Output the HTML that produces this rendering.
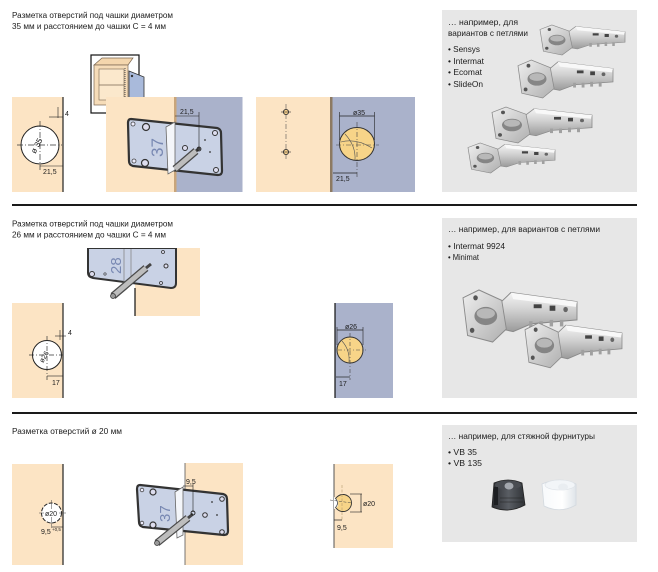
<!DOCTYPE html>
<html><head><meta charset="utf-8">
<style>
html,body{margin:0;padding:0;background:#fff;}
svg{display:block;}
text{font-family:"Liberation Sans", Arial, sans-serif;fill:#1c1c1c;}
</style></head><body>
<svg width="658" height="572" viewBox="0 0 658 572" xmlns="http://www.w3.org/2000/svg">
<defs>
<linearGradient id="metal" x1="0" y1="0" x2="0" y2="1">
<stop offset="0" stop-color="#f4f4f4"/><stop offset="0.45" stop-color="#d0d0d0"/><stop offset="1" stop-color="#9a9a9a"/>
</linearGradient>
<linearGradient id="cupg" x1="0" y1="0" x2="1" y2="1">
<stop offset="0" stop-color="#efefef"/><stop offset="1" stop-color="#afafaf"/>
</linearGradient>
<linearGradient id="darkcam" x1="0" y1="0" x2="1" y2="0">
<stop offset="0" stop-color="#2b2d31"/><stop offset="0.5" stop-color="#5a5e64"/><stop offset="1" stop-color="#2f3236"/>
</linearGradient>
<linearGradient id="whitecam" x1="0" y1="0" x2="1" y2="0">
<stop offset="0" stop-color="#f7f9fb"/><stop offset="0.6" stop-color="#ffffff"/><stop offset="1" stop-color="#dfe4e9"/>
</linearGradient>
<g id="hinge">
 <polygon points="30,12 42,2 100,9 100,23 60,26 44,32 34,30" fill="url(#metal)" stroke="#8a8a8a" stroke-width="0.8"/>
 <polygon points="42,2 100,9 99,13 44,7" fill="#f8f8f8"/>
 <rect x="58" y="24" width="3" height="5" fill="#a0a0a0"/>
 <rect x="67" y="24" width="3" height="5" fill="#a0a0a0"/>
 <rect x="76" y="23" width="3" height="5" fill="#a0a0a0"/>
 <rect x="85" y="23" width="3" height="5" fill="#a0a0a0"/>
 <polygon points="0,6 14,0 34,8 38,30 26,40 4,35" fill="url(#cupg)" stroke="#8a8a8a" stroke-width="0.8"/>
 <ellipse cx="20" cy="20" rx="10" ry="7" fill="#858585"/>
 <ellipse cx="20" cy="18" rx="8" ry="4" fill="#b8b8b8"/>
 <circle cx="8" cy="31" r="2" fill="#555"/>
 <circle cx="11" cy="6" r="2" fill="#555"/>
 <rect x="62" y="11" width="7" height="3" fill="#444"/>
 <rect x="76" y="12" width="5" height="4" fill="#444"/>
 <circle cx="90" cy="15" r="2" fill="#666"/>
</g>
</defs>

<!-- ================= SECTION 1 ================= -->
<text x="12" y="18" font-size="8" textLength="161" lengthAdjust="spacingAndGlyphs">Разметка отверстий под чашки диаметром</text>
<text x="12" y="29" font-size="8" textLength="154" lengthAdjust="spacingAndGlyphs">35 мм и расстоянием до чашки С = 4 мм</text>

<!-- left drawing -->
<rect x="12" y="97" width="51" height="95" fill="#fce4c4"/>
<line x1="63" y1="97" x2="63" y2="192" stroke="#222" stroke-width="1.2"/>
<circle cx="40" cy="145" r="19" fill="#fff" stroke="#222" stroke-width="1"/>
<line x1="17" y1="145" x2="62" y2="145" stroke="#333" stroke-width="0.7" stroke-dasharray="6,2,1,2"/>
<line x1="40" y1="121" x2="40" y2="170" stroke="#333" stroke-width="0.7" stroke-dasharray="6,2,1,2"/>
<line x1="49" y1="117" x2="63" y2="117" stroke="#222" stroke-width="0.6"/>
<line x1="58" y1="107" x2="58" y2="118" stroke="#222" stroke-width="0.6"/>
<text x="65" y="116" font-size="7">4</text>
<line x1="40" y1="166" x2="63" y2="166" stroke="#222" stroke-width="0.6"/>
<text x="43" y="174" font-size="7">21,5</text>
<text transform="translate(39,147) rotate(-62)" text-anchor="middle" font-size="8">ø 35</text>

<!-- middle drawing -->
<rect x="91" y="55" width="48" height="58" fill="#fff" stroke="#111" stroke-width="1.2"/>
<polygon points="94,65 102,58 133,58 128,65" fill="#f4d6ad" stroke="#7a6650" stroke-width="0.7"/>
<rect x="94" y="65" width="34" height="40" fill="#f6dcb8" stroke="#7a6650" stroke-width="0.7"/>
<rect x="99" y="69" width="25" height="31" fill="#fbe8cc" stroke="#7a6650" stroke-width="0.6"/>
<line x1="99" y1="85" x2="124" y2="85" stroke="#7a6650" stroke-width="0.8"/>
<line x1="125" y1="68" x2="125" y2="100" stroke="#555" stroke-width="1" stroke-dasharray="1,1"/>
<polygon points="129,71 144,77 144,113 129,105" fill="#a9badb" stroke="#333" stroke-width="0.8"/>
<circle cx="132" cy="76" r="1.2" fill="#333"/>
<circle cx="132" cy="99" r="1.2" fill="#333"/>

<rect x="106" y="97" width="68" height="95" fill="#fce4c4"/>
<rect x="174" y="97" width="2.5" height="95" fill="#c9a57a"/>
<rect x="176.5" y="97" width="66" height="95" fill="#aab2cb"/>
<path d="M131,119 L217,128 Q221,129 221,133 L222,171 Q222,175 218,175 L133,166 Q129,165 129,161 L128,123 Q128,119 131,119 Z" fill="#c9d2e5" stroke="#333" stroke-width="2.2" stroke-linejoin="round"/>
<circle cx="133" cy="124" r="2" fill="#eef" stroke="#444" stroke-width="0.8"/>
<circle cx="146" cy="127" r="3.5" fill="#dde" stroke="#333" stroke-width="1.2"/>
<circle cx="134" cy="161" r="2" fill="#eef" stroke="#444" stroke-width="0.8"/>
<circle cx="145" cy="163" r="3.5" fill="#dde" stroke="#333" stroke-width="1.2"/>
<circle cx="215" cy="133" r="2.5" fill="#dde" stroke="#333" stroke-width="1"/>
<circle cx="216" cy="170" r="2.5" fill="#dde" stroke="#333" stroke-width="1"/>
<circle cx="185" cy="148" r="2.5" fill="#dde" stroke="#333" stroke-width="1"/>
<circle cx="210" cy="152" r="0.9" fill="#333"/>
<circle cx="205" cy="140" r="0.9" fill="#333"/>
<text transform="translate(163,157) rotate(-90)" font-size="17" style="fill:#7888b2">37</text>
<polygon points="166,127 175,122 175,170 168,174" fill="#f4f6fa" stroke="#666" stroke-width="0.8"/>
<line x1="175" y1="169" x2="196" y2="151" stroke="#4a4a4a" stroke-width="7.5"/>
<line x1="175" y1="169" x2="196" y2="151" stroke="#bdbdbd" stroke-width="5"/>
<line x1="196" y1="151" x2="200" y2="148" stroke="#444" stroke-width="3"/>
<circle cx="199" cy="149" r="2" fill="none" stroke="#222" stroke-width="0.8"/>
<line x1="175" y1="116" x2="199" y2="116" stroke="#222" stroke-width="0.6"/>
<line x1="199" y1="112" x2="199" y2="148" stroke="#222" stroke-width="0.6"/>
<text x="180" y="114" font-size="7">21,5</text>

<!-- right drawing -->
<rect x="256" y="97" width="74" height="95" fill="#fce4c4"/>
<rect x="330" y="97" width="2.5" height="95" fill="#8d7a62"/>
<rect x="332.5" y="97" width="82.5" height="95" fill="#aab2cb"/>
<line x1="286" y1="104" x2="286" y2="160" stroke="#555" stroke-width="0.6" stroke-dasharray="5,2,1,2"/>
<circle cx="286" cy="112" r="2.6" fill="#f8d08a" stroke="#333" stroke-width="0.9"/>
<line x1="281" y1="112" x2="291" y2="112" stroke="#333" stroke-width="0.6"/>
<circle cx="286" cy="152" r="2.6" fill="#f8d08a" stroke="#333" stroke-width="0.9"/>
<line x1="281" y1="152" x2="291" y2="152" stroke="#333" stroke-width="0.6"/>
<ellipse cx="357" cy="144" rx="17.5" ry="16.5" fill="#f7d488" stroke="#333" stroke-width="1"/>
<path d="M345,134 Q356,146 355,160" fill="none" stroke="#555" stroke-width="0.6"/>
<path d="M341,142 Q356,138 372,148" fill="none" stroke="#555" stroke-width="0.6"/>
<line x1="336" y1="145" x2="379" y2="145" stroke="#444" stroke-width="0.6" stroke-dasharray="5,2,1,2"/>
<line x1="357" y1="122" x2="357" y2="178" stroke="#444" stroke-width="0.6" stroke-dasharray="5,2,1,2"/>
<line x1="339.5" y1="112" x2="339.5" y2="140" stroke="#222" stroke-width="0.6"/>
<line x1="374.5" y1="112" x2="374.5" y2="140" stroke="#222" stroke-width="0.6"/>
<line x1="339.5" y1="116" x2="374.5" y2="116" stroke="#222" stroke-width="0.7"/>
<text x="353" y="115" font-size="7">ø35</text>
<line x1="333" y1="173" x2="357" y2="173" stroke="#222" stroke-width="0.7"/>
<text x="336" y="181" font-size="7">21,5</text>

<!-- right panel 1 -->
<rect x="442" y="10" width="195" height="182" fill="#e7e7e7"/>
<text x="448" y="25" font-size="8.5" textLength="70" lengthAdjust="spacingAndGlyphs">…  например, для</text>
<text x="448" y="36" font-size="8.5" textLength="80" lengthAdjust="spacingAndGlyphs">вариантов с петлями</text>
<text x="448" y="52" font-size="8.5" textLength="32" lengthAdjust="spacingAndGlyphs">• Sensys</text>
<text x="448" y="64" font-size="8.5" textLength="36" lengthAdjust="spacingAndGlyphs">• Intermat</text>
<text x="448" y="75" font-size="8.5" textLength="34" lengthAdjust="spacingAndGlyphs">• Ecomat</text>
<text x="448" y="87" font-size="8.5" textLength="35" lengthAdjust="spacingAndGlyphs">• SlideOn</text>
<use href="#hinge" transform="translate(540,25) scale(0.85,0.75)"/>
<use href="#hinge" transform="translate(518,60) scale(0.95,0.95)"/>
<use href="#hinge" transform="translate(492,107) scale(1,0.9)"/>
<use href="#hinge" transform="translate(468,143) scale(0.87,0.75)"/>

<!-- divider 1 -->
<rect x="12" y="204" width="625" height="2" fill="#1a1a1a"/>

<!-- ================= SECTION 2 ================= -->
<text x="12" y="226.5" font-size="8" textLength="161" lengthAdjust="spacingAndGlyphs">Разметка отверстий под чашки диаметром</text>
<text x="12" y="237.5" font-size="8" textLength="154" lengthAdjust="spacingAndGlyphs">26 мм и расстоянием до чашки С = 4 мм</text>

<!-- middle plate -->
<rect x="135" y="248" width="65" height="68" fill="#fce4c4"/>
<path d="M88,248 L176,248 L176,283 Q176,288 171,288 L93,278 Q88,277 88,273 Z" fill="#c9d2e5" stroke="#333" stroke-width="2" stroke-linejoin="round"/>
<rect x="87" y="246" width="91" height="2" fill="#fff"/>
<line x1="124" y1="249" x2="124" y2="282" stroke="#888" stroke-width="0.8"/>
<line x1="131" y1="249" x2="131" y2="283" stroke="#888" stroke-width="0.8"/>
<line x1="135" y1="288" x2="135" y2="316" stroke="#111" stroke-width="1.2"/>
<text transform="translate(121,274) rotate(-90)" font-size="15" style="fill:#7888b2">28</text>
<circle cx="92" cy="274" r="2.5" fill="#dde" stroke="#333" stroke-width="1"/>
<circle cx="105" cy="274" r="1.2" fill="none" stroke="#333" stroke-width="0.6"/>
<circle cx="166" cy="266" r="2" fill="#dde" stroke="#333" stroke-width="1"/>
<circle cx="163" cy="252" r="1.5" fill="#dde" stroke="#333" stroke-width="0.8"/>
<circle cx="161" cy="283" r="1.5" fill="#dde" stroke="#333" stroke-width="0.8"/>
<line x1="113" y1="296" x2="146" y2="268" stroke="#4a4a4a" stroke-width="7.5"/>
<line x1="113" y1="296" x2="146" y2="268" stroke="#bdbdbd" stroke-width="5"/>
<line x1="146" y1="268" x2="151" y2="264" stroke="#444" stroke-width="3"/>
<circle cx="113" cy="296" r="2.5" fill="#999" stroke="#333" stroke-width="0.7"/>

<!-- left drawing -->
<rect x="12" y="303" width="51" height="95" fill="#fce4c4"/>
<line x1="63" y1="303" x2="63" y2="398" stroke="#222" stroke-width="1.2"/>
<circle cx="47" cy="355" r="14.5" fill="#fff" stroke="#222" stroke-width="1"/>
<line x1="29" y1="355" x2="63" y2="355" stroke="#333" stroke-width="0.7" stroke-dasharray="5,2,1,2"/>
<line x1="47" y1="336" x2="47" y2="380" stroke="#333" stroke-width="0.7" stroke-dasharray="5,2,1,2"/>
<line x1="55" y1="336" x2="66" y2="336" stroke="#222" stroke-width="0.6"/>
<line x1="60" y1="330" x2="60" y2="340" stroke="#222" stroke-width="0.6"/>
<text x="68" y="335" font-size="7">4</text>
<line x1="47" y1="376" x2="63" y2="376" stroke="#222" stroke-width="0.6"/>
<text x="52" y="385" font-size="7">17</text>
<text transform="translate(46,358) rotate(-60)" text-anchor="middle" font-size="7">ø26</text>

<!-- right drawing -->
<rect x="335" y="303" width="58" height="95" fill="#aab2cb"/>
<line x1="335" y1="303" x2="335" y2="398" stroke="#111" stroke-width="1.2"/>
<circle cx="350" cy="350" r="13" fill="#f7d488" stroke="#333" stroke-width="1"/>
<path d="M342,341 Q350,350 349,362" fill="none" stroke="#555" stroke-width="0.6"/>
<line x1="338" y1="350" x2="366" y2="350" stroke="#444" stroke-width="0.6" stroke-dasharray="4,2,1,2"/>
<line x1="350" y1="333" x2="350" y2="380" stroke="#444" stroke-width="0.6" stroke-dasharray="4,2,1,2"/>
<line x1="337" y1="327" x2="337" y2="345" stroke="#222" stroke-width="0.6"/>
<line x1="363" y1="327" x2="363" y2="345" stroke="#222" stroke-width="0.6"/>
<line x1="337" y1="330" x2="363" y2="330" stroke="#222" stroke-width="0.7"/>
<text x="345" y="329" font-size="7">ø26</text>
<line x1="336" y1="377" x2="350" y2="377" stroke="#222" stroke-width="0.7"/>
<text x="339" y="386" font-size="7">17</text>

<!-- right panel 2 -->
<rect x="442" y="218" width="195" height="180" fill="#e7e7e7"/>
<text x="448" y="232" font-size="8.5" textLength="152" lengthAdjust="spacingAndGlyphs">…  например, для вариантов с петлями</text>
<text x="448" y="249" font-size="8.5" textLength="57" lengthAdjust="spacingAndGlyphs">• Intermat 9924</text>
<text x="448" y="260" font-size="8.5" textLength="31" lengthAdjust="spacingAndGlyphs">• Minimat</text>
<use href="#hinge" transform="translate(463,290) scale(1.14,1.3)"/>
<use href="#hinge" transform="translate(525,323) scale(0.97,1.12)"/>

<!-- divider 2 -->
<rect x="12" y="412" width="625" height="2" fill="#1a1a1a"/>

<!-- ================= SECTION 3 ================= -->
<text x="12" y="434" font-size="8" textLength="110" lengthAdjust="spacingAndGlyphs">Разметка отверстий ø 20 мм</text>

<!-- left drawing -->
<rect x="12" y="464" width="51" height="101" fill="#fce4c4"/>
<line x1="63" y1="464" x2="63" y2="565" stroke="#222" stroke-width="1.2"/>
<circle cx="51.5" cy="513" r="10" fill="#fff" stroke="#222" stroke-width="1" stroke-dasharray="4,1.5"/>
<line x1="39" y1="513" x2="66" y2="513" stroke="#444" stroke-width="0.5"/>
<line x1="51.5" y1="500" x2="51.5" y2="528" stroke="#444" stroke-width="0.5"/>
<rect x="44" y="509" width="15" height="8" fill="#fff"/>
<text x="45" y="516" font-size="7">ø20</text>
<line x1="52" y1="527" x2="63" y2="527" stroke="#222" stroke-width="0.6"/>
<text x="41" y="534" font-size="7">9,5</text>
<text x="52" y="531" font-size="4.5">+0,5</text>

<!-- middle drawing -->
<rect x="185" y="463" width="58" height="102" fill="#fce4c4"/>
<line x1="185" y1="463" x2="185" y2="565" stroke="#555" stroke-width="0.8"/>
<path d="M140,485 L223,494 Q227,495 227,499 L228,531 Q228,535 224,535 L143,527 Q139,526 139,522 L137,489 Q137,485 140,485 Z" fill="#c9d2e5" stroke="#333" stroke-width="2.2" stroke-linejoin="round"/>
<circle cx="142" cy="490" r="1.8" fill="#eef" stroke="#444" stroke-width="0.8"/>
<circle cx="153" cy="492" r="3" fill="#dde" stroke="#333" stroke-width="1.2"/>
<circle cx="142" cy="523" r="1.8" fill="#eef" stroke="#444" stroke-width="0.8"/>
<circle cx="153" cy="525" r="3" fill="#dde" stroke="#333" stroke-width="1.2"/>
<circle cx="222" cy="499" r="2.3" fill="#dde" stroke="#333" stroke-width="1"/>
<circle cx="222" cy="532" r="2.3" fill="#dde" stroke="#333" stroke-width="1"/>
<circle cx="205" cy="515" r="2.3" fill="#dde" stroke="#333" stroke-width="1"/>
<circle cx="217" cy="515" r="0.9" fill="#333"/>
<circle cx="212" cy="502" r="0.9" fill="#333"/>
<text transform="translate(170,522) rotate(-90)" font-size="15" style="fill:#7888b2">37</text>
<polygon points="175,492 183,487 183,535 177,538" fill="#f4f6fa" stroke="#666" stroke-width="0.8"/>
<line x1="157" y1="543" x2="188" y2="518" stroke="#4a4a4a" stroke-width="7.5"/>
<line x1="157" y1="543" x2="188" y2="518" stroke="#bdbdbd" stroke-width="5"/>
<line x1="188" y1="518" x2="193" y2="514" stroke="#444" stroke-width="3"/>
<circle cx="157" cy="543" r="2.5" fill="#999" stroke="#333" stroke-width="0.7"/>
<circle cx="193" cy="513" r="2" fill="none" stroke="#222" stroke-width="0.9"/>
<line x1="183" y1="486" x2="193" y2="486" stroke="#222" stroke-width="0.6"/>
<line x1="193" y1="483" x2="193" y2="512" stroke="#222" stroke-width="0.6"/>
<text x="186" y="484" font-size="7">9,5</text>

<!-- right drawing -->
<rect x="334" y="464" width="59" height="84" fill="#fce4c4"/>
<line x1="334" y1="464" x2="334" y2="548" stroke="#555" stroke-width="1"/>
<circle cx="343" cy="503" r="8.5" fill="#f7d488" stroke="#333" stroke-width="0.9"/>
<path d="M334,497 Q339,500 338,503 Q339,507 334,509 Z" fill="#fff"/>
<path d="M335,498 Q340,503 335,508" fill="none" stroke="#333" stroke-width="0.7"/>
<line x1="330" y1="500" x2="352" y2="503" stroke="#444" stroke-width="0.5" stroke-dasharray="3,1.5"/>
<line x1="342" y1="485" x2="342" y2="520" stroke="#b59a70" stroke-width="0.6" stroke-dasharray="3,1.5"/>
<line x1="350" y1="494" x2="362" y2="494" stroke="#222" stroke-width="0.6"/>
<line x1="350" y1="512" x2="362" y2="512" stroke="#222" stroke-width="0.6"/>
<line x1="361" y1="494" x2="361" y2="512" stroke="#222" stroke-width="0.7"/>
<text x="363" y="506" font-size="7">ø20</text>
<line x1="334" y1="520" x2="342" y2="520" stroke="#222" stroke-width="0.7"/>
<text x="337" y="530" font-size="7">9,5</text>

<!-- right panel 3 -->
<rect x="442" y="425" width="195" height="117" fill="#e7e7e7"/>
<text x="448" y="439" font-size="8.5" textLength="147" lengthAdjust="spacingAndGlyphs">…  например, для стяжной фурнитуры</text>
<text x="448" y="455" font-size="8.5" textLength="29" lengthAdjust="spacingAndGlyphs">• VB 35</text>
<text x="448" y="466" font-size="8.5" textLength="34" lengthAdjust="spacingAndGlyphs">• VB 135</text>
<!-- dark cam -->
<path d="M494,483 Q508,477 522,483 L525,505 Q508,514 492,507 Z" fill="url(#darkcam)" stroke="#222" stroke-width="0.8"/>
<ellipse cx="508" cy="485" rx="13" ry="4.5" fill="#4a4d52"/>
<ellipse cx="509" cy="486" rx="4.5" ry="3.5" fill="#a3a7ad"/>
<rect x="494" y="487" width="4" height="18" fill="#1d1f22"/>
<line x1="500" y1="498" x2="523" y2="498" stroke="#222" stroke-width="0.6"/>
<line x1="500" y1="502" x2="523" y2="502" stroke="#222" stroke-width="0.6"/>
<!-- white cam -->
<path d="M542,484 Q560,476 576,484 L576,505 Q560,514 544,506 Z" fill="url(#whitecam)" stroke="#d3d9df" stroke-width="0.8"/>
<ellipse cx="560" cy="485" rx="15" ry="5" fill="#f2f5f8" stroke="#dde2e7" stroke-width="0.6"/>
<ellipse cx="563" cy="487" rx="5" ry="3.5" fill="#e9edf1"/>
</svg>
</body></html>
